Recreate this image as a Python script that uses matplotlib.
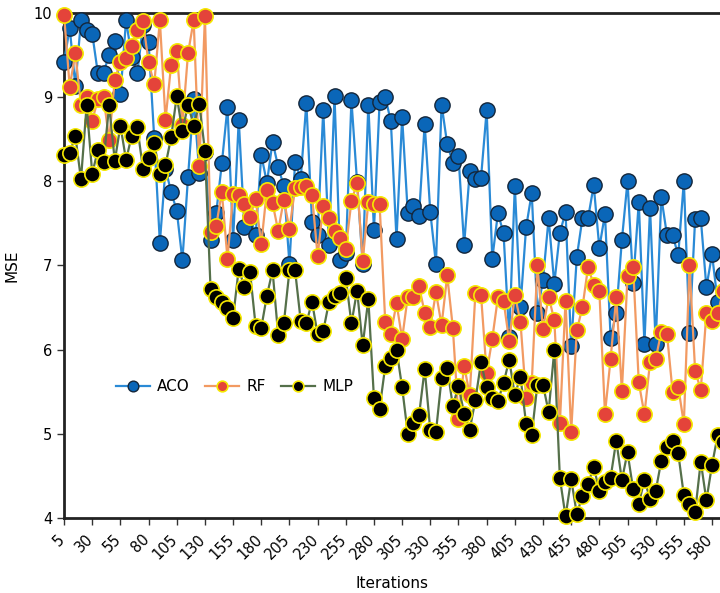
import numpy as np
import matplotlib
matplotlib.use("Agg")
import matplotlib.pyplot as plt
from matplotlib.transforms import ScaledTranslation

# ---------------------------------------------------
# Data
# ---------------------------------------------------

iterations = np.arange(5, 595, 5)

aco = [
    9.42, 9.82, 9.13, 9.91, 9.79, 9.75, 9.28, 9.29, 9.50, 9.66,
    9.03, 9.91, 9.48, 9.28, 9.85, 9.65, 8.51, 7.27, 8.15, 7.87,
    7.65, 7.06, 8.05, 8.97, 8.10, 8.35, 7.30, 7.62, 8.21, 8.88,
    7.30, 8.73, 7.46, 7.58, 7.36, 8.31, 7.98, 8.47, 8.17, 7.94,
    7.02, 8.23, 8.03, 8.93, 7.52, 7.36, 8.85, 7.24, 9.01, 7.06,
    7.15, 8.96, 7.99, 7.02, 8.91, 7.42, 8.94, 9.00, 8.71, 7.31,
    8.76, 7.62, 7.71, 7.59, 8.68, 7.63, 7.02, 8.91, 8.44, 8.22,
    8.30, 7.24, 8.12, 8.02, 8.04, 8.84, 7.08, 7.62, 7.38, 6.15,
    7.94, 6.51, 7.45, 7.86, 6.43, 6.83, 7.56, 6.78, 7.39, 7.63,
    6.04, 7.10, 7.56, 7.56, 7.95, 7.21, 7.61, 6.14, 6.43, 7.30,
    8.00, 6.79, 7.75, 6.07, 7.68, 6.07, 7.81, 7.36, 7.36, 7.12,
    8.00, 6.20, 7.55, 7.56, 6.74, 7.13, 6.57, 6.90,
]

rf = [
    9.97, 9.12, 9.52, 8.90, 9.00, 8.72, 8.97, 9.00, 8.49, 9.20,
    9.42, 9.46, 9.60, 9.80, 9.90, 9.41, 9.15, 9.91, 8.73, 9.38,
    9.55, 8.67, 9.52, 9.91, 8.18, 9.96, 7.40, 7.47, 7.87, 7.08,
    7.85, 7.84, 7.73, 7.58, 7.79, 7.25, 7.90, 7.74, 7.41, 7.78,
    7.43, 7.92, 7.93, 7.94, 7.84, 7.11, 7.71, 7.56, 7.41, 7.32,
    7.20, 7.76, 7.98, 7.05, 7.75, 7.73, 7.73, 6.33, 6.19, 6.55,
    6.13, 6.63, 6.63, 6.75, 6.44, 6.27, 6.68, 6.29, 6.88, 6.26,
    5.18, 5.81, 5.46, 6.67, 6.65, 5.72, 6.13, 6.62, 6.58, 6.10,
    6.65, 6.33, 5.42, 5.60, 7.00, 6.24, 6.63, 6.35, 5.13, 6.58,
    5.02, 6.23, 6.50, 6.98, 6.77, 6.70, 5.24, 5.89, 6.62, 5.51,
    6.87, 6.98, 5.61, 5.23, 5.85, 5.89, 6.21, 6.19, 5.50, 5.56,
    5.12, 7.00, 5.75, 5.52, 6.43, 6.34, 6.43, 6.70,
]

mlp = [
    8.31, 8.33, 8.54, 8.02, 8.90, 8.09, 8.37, 8.23, 8.90, 8.24,
    8.66, 8.25, 8.54, 8.64, 8.15, 8.27, 8.45, 8.09, 8.19, 8.52,
    9.01, 8.59, 8.91, 8.66, 8.92, 8.36, 6.72, 6.63, 6.57, 6.49,
    6.38, 6.96, 6.74, 6.92, 6.28, 6.26, 6.64, 6.94, 6.17, 6.31,
    6.94, 6.94, 6.34, 6.31, 6.57, 6.18, 6.22, 6.56, 6.64, 6.67,
    6.85, 6.31, 6.70, 6.05, 6.60, 5.42, 5.30, 5.80, 5.90, 6.00,
    5.55, 5.00, 5.13, 5.22, 5.77, 5.04, 5.02, 5.66, 5.78, 5.33,
    5.57, 5.24, 5.05, 5.40, 5.85, 5.55, 5.42, 5.39, 5.60, 5.88,
    5.46, 5.68, 5.12, 4.99, 5.58, 5.58, 5.26, 5.99, 4.47, 4.02,
    4.46, 4.05, 4.26, 4.40, 4.61, 4.32, 4.43, 4.48, 4.92, 4.45,
    4.78, 4.34, 4.17, 4.45, 4.23, 4.32, 4.68, 4.84, 4.92, 4.77,
    4.27, 4.17, 4.07, 4.67, 4.21, 4.63, 4.98, 4.90,
]

x_ticks = np.arange(5, 581, 25)
y_ticks = [4, 5, 6, 7, 8, 9, 10]

# ---------------------------------------------------
# Plot
# ---------------------------------------------------

plt.rcParams["font.family"] = ["DejaVu Sans"]

fig = plt.figure(figsize=(7.2, 5.93), dpi=100)
ax = fig.add_axes([0.089, 0.1265, 0.911, 0.852])

ms = 11

ax.plot(iterations, aco, color="#2a8ad6", linewidth=1.6,
        marker="o", markersize=ms, markerfacecolor="#0a66b8",
        markeredgecolor="#14263a", markeredgewidth=1.0, label="ACO",
        zorder=3, clip_on=False)
ax.plot(iterations, rf, color="#f29a62", linewidth=1.6,
        marker="o", markersize=ms, markerfacecolor="#e4433a",
        markeredgecolor="#f5e800", markeredgewidth=1.2, label="RF",
        zorder=4, clip_on=False)
ax.plot(iterations, mlp, color="#55704a", linewidth=1.6,
        marker="o", markersize=ms, markerfacecolor="black",
        markeredgecolor="#f5e800", markeredgewidth=1.2, label="MLP",
        zorder=5, clip_on=False)

ax.set_xlim(5, 5 + 656 / 1.127)
ax.set_ylim(4, 10)

ax.tick_params(direction="out", length=5, width=1, color="#333333")

ax.set_xticks(x_ticks)
ax.set_xticklabels([str(t) for t in x_ticks], rotation=45, ha="right",
                   rotation_mode="anchor", fontsize=10.5)
ax.set_yticks(y_ticks)
ax.set_yticklabels([str(t) for t in y_ticks], fontsize=10.5)

# nudge rotated labels a little to the left, as in the reference
shift = ScaledTranslation(-7 / 100, -2 / 100, fig.dpi_scale_trans)
for tick in ax.xaxis.get_major_ticks():
    tick.label1.set_transform(tick.label1.get_transform() + shift)

for side in ["left", "top", "bottom"]:
    ax.spines[side].set_linewidth(2)
    ax.spines[side].set_color("#222222")
ax.spines["right"].set_visible(False)

ax.set_xlabel("Iterations", fontsize=11, labelpad=10)
ax.set_ylabel("MSE", fontsize=11, labelpad=10)

ax.legend(loc="center", bbox_to_anchor=(0.26, 0.26), ncol=3, frameon=False,
          fontsize=11, handlelength=2.2, columnspacing=1.0, handletextpad=0.5,
          markerscale=0.7)

plt.savefig("out.png", dpi=100)
